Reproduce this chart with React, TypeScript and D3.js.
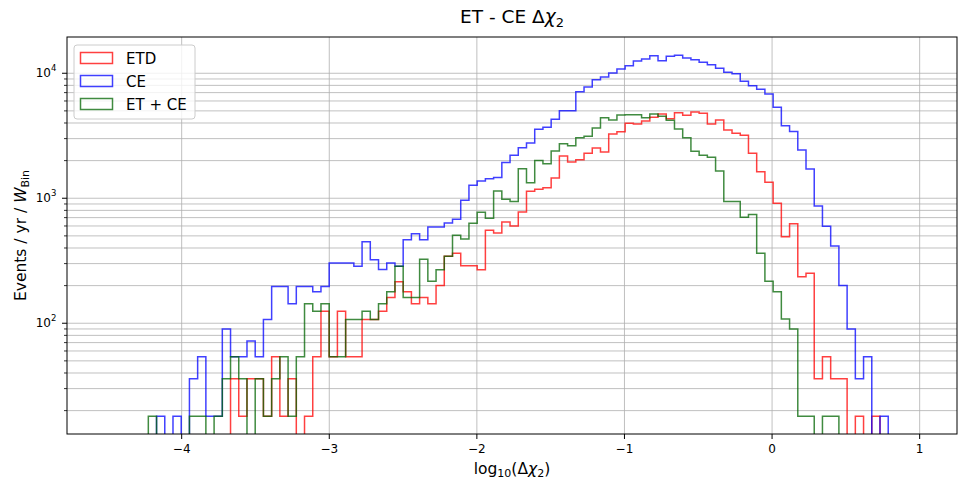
import React from "react";
import * as d3 from "d3";

// Histogram binning (log10 Δχ2)
const binStart = -4.226;
const binWidth = 0.0557;

// Events / yr / W_Bin per bin
const etdValues = [
  0, 0, 0, 0, 0, 0, 0, 0, 0, 0,
  36, 18, 36, 36, 18, 54, 18, 36, 0, 18,
  54, 125, 54, 125, 54, 54, 107, 107, 125, 161,
  215, 179, 143, 161, 143, 200, 344, 363, 289, 289,
  268, 555, 527, 646, 600, 777, 1137, 1180, 1216, 1453,
  2180, 1950, 2035, 2290, 2524, 2344, 3266, 3410, 3980, 3930,
  4150, 4446, 4725, 4335, 4840, 4613, 4900, 4786, 3930, 4230,
  3518, 3312, 3192, 2290, 1632, 1343, 912, 493, 626, 236,
  251, 36, 54, 36, 36, 0, 18, 0, 18, 0,
];

const ceValues = [
  0, 18, 0, 18, 0, 36, 54, 18, 18, 90,
  54, 54, 72, 54, 107, 197, 197, 143, 197, 197,
  179, 197, 304, 304, 304, 286, 448, 322, 269, 304,
  286, 465, 519, 465, 590, 590, 635, 680, 966, 1270,
  1375, 1430, 1465, 1930, 2210, 2540, 2770, 3565, 3700, 4285,
  5020, 5020, 7125, 7770, 8890, 9340, 10040, 10820, 11500, 12540,
  13000, 13830, 12610, 13680, 13940, 13250, 12840, 12240, 11710, 10960,
  10180, 9930, 8630, 7960, 7450, 6830, 5350, 3810, 3413, 2432,
  1714, 867, 597, 415, 200, 90, 36, 54, 0, 18,
];

const etCeValues = [
  18, 0, 0, 0, 0, 18, 18, 0, 18, 36,
  54, 36, 0, 36, 18, 36, 54, 18, 54, 143,
  125, 143, 54, 54, 107, 107, 125, 107, 143, 179,
  286, 161, 161, 325, 217, 268, 344, 506, 472, 631,
  773, 692, 1144, 982, 940, 1725, 1333, 2000, 1891, 2390,
  2734, 2635, 3055, 3133, 3650, 4412, 4230, 4637, 4665, 4665,
  4412, 4725, 4530, 4207, 3585, 3055, 2377, 2208, 2128, 1653,
  940, 940, 705, 740, 363, 217, 179, 108, 90, 18,
  18, 0, 18, 18, 0, 0, 0, 0, 0, 0,
];

const seriesNames = ["ETD", "CE", "ET + CE"];
const seriesColors = ["#ff0000", "#0000ff", "#006400"];
const xTicks = [-4, -3, -2, -1, 0, 1];
const yMajorTicks = [100, 1000, 10000];

const W = 958;
const H = 487;
const M = { left: 67, right: 957, top: 37, bottom: 434 };
const FONT = "DejaVu Sans, sans-serif";

export default function App() {
  const x = d3.scaleLinear().domain([-4.777, 1.253]).range([M.left, M.right]);
  const y = d3.scaleLog().domain([13.0, 19500]).range([M.bottom, M.top]);

  const series = [etdValues, ceValues, etCeValues];

  const makePath = (vals: number[]) => {
    const pts: [number, number][] = [];
    pts.push([binStart, 0]);
    vals.forEach((v, i) => pts.push([binStart + i * binWidth, v]));
    pts.push([binStart + vals.length * binWidth, 0]);
    const line = d3
      .line<[number, number]>()
      .x((d) => x(d[0]))
      .y((d) => (d[1] > 0 ? y(d[1]) : M.bottom + 20))
      .curve(d3.curveStepAfter);
    return line(pts) || "";
  };

  const minorTicks: number[] = [];
  for (let dec = 10; dec <= 10000; dec *= 10) {
    for (let k = 2; k <= 9; k++) {
      const v = dec * k;
      if (v > 13.0 && v < 19500) minorTicks.push(v);
    }
  }

  const gridColor = "#b0b0b0";
  const supMap: Record<number, string> = { 100: "2", 1000: "3", 10000: "4" };

  return (
    <svg width={W} height={H} style={{ display: "block", position: "absolute", left: 0, top: 0 }}>
      <rect x={0} y={0} width={W} height={H} fill="#fff" />
      <defs>
        <clipPath id="plotclip">
          <rect x={M.left} y={M.top} width={M.right - M.left} height={M.bottom - M.top} />
        </clipPath>
      </defs>

      {/* grid */}
      <g>
        {minorTicks.map((t) => (
          <line key={"mg" + t} x1={M.left} x2={M.right} y1={y(t)} y2={y(t)} stroke={gridColor} strokeWidth={0.8} />
        ))}
        {yMajorTicks.map((t) => (
          <line key={"Mg" + t} x1={M.left} x2={M.right} y1={y(t)} y2={y(t)} stroke={gridColor} strokeWidth={0.8} />
        ))}
        {xTicks.map((t) => (
          <line key={"xg" + t} x1={x(t)} x2={x(t)} y1={M.top} y2={M.bottom} stroke={gridColor} strokeWidth={0.8} />
        ))}
      </g>

      {/* histograms */}
      <g clipPath="url(#plotclip)">
        {series.map((vals, i) => (
          <path
            key={seriesNames[i]}
            d={makePath(vals)}
            fill="none"
            stroke={seriesColors[i]}
            strokeOpacity={0.75}
            strokeWidth={1.5}
          />
        ))}
      </g>

      {/* frame */}
      <rect x={M.left} y={M.top} width={M.right - M.left} height={M.bottom - M.top} fill="none" stroke="#000" strokeWidth={1} />

      {/* x ticks */}
      <g fontFamily={FONT} fontSize={12} fill="#000">
        {xTicks.map((t) => (
          <g key={"xt" + t}>
            <line x1={x(t)} x2={x(t)} y1={M.bottom} y2={M.bottom + 5} stroke="#000" strokeWidth={1} />
            <text x={x(t)} y={M.bottom + 19} textAnchor="middle">
              {t < 0 ? "\u2212" + Math.abs(t) : String(t)}
            </text>
          </g>
        ))}
      </g>

      {/* y ticks */}
      <g fontFamily={FONT} fontSize={12} fill="#000">
        {minorTicks.map((t) => (
          <line key={"ymt" + t} x1={M.left - 3} x2={M.left} y1={y(t)} y2={y(t)} stroke="#000" strokeWidth={0.8} />
        ))}
        {yMajorTicks.map((t) => (
          <g key={"yt" + t}>
            <line x1={M.left - 5} x2={M.left} y1={y(t)} y2={y(t)} stroke="#000" strokeWidth={1} />
            <text x={M.left - 16} y={y(t) + 4} textAnchor="end">10</text>
            <text x={M.left - 16} y={y(t) - 2} fontSize={8.5}>{supMap[t]}</text>
          </g>
        ))}
      </g>

      {/* title */}
      <text x={(M.left + M.right) / 2} y={23} textAnchor="middle" fontFamily={FONT} fontSize={18.5}>
        <tspan>ET - CE Δ</tspan>
        <tspan fontStyle="italic">χ</tspan>
        <tspan fontSize={13} dy={4}>2</tspan>
      </text>

      {/* x label */}
      <text x={(M.left + M.right) / 2} y={474} textAnchor="middle" fontFamily={FONT} fontSize={15.5}>
        <tspan>log</tspan>
        <tspan fontSize={11} dy={3}>10</tspan>
        <tspan dy={-3}>(Δ</tspan>
        <tspan fontStyle="italic">χ</tspan>
        <tspan fontSize={11} dy={3}>2</tspan>
        <tspan dy={-3}>)</tspan>
      </text>

      {/* y label */}
      <text
        transform={`translate(26, ${(M.top + M.bottom) / 2}) rotate(-90)`}
        textAnchor="middle"
        fontFamily={FONT}
        fontSize={15.5}
      >
        <tspan>Events / yr / </tspan>
        <tspan fontStyle="italic">W</tspan>
        <tspan fontSize={11} dy={3}>Bin</tspan>
      </text>

      {/* legend */}
      <g fontFamily={FONT} fontSize={15}>
        <rect x={74} y={45} width={121} height={74} rx={3} fill="#fff" fillOpacity={0.8} stroke="#cccccc" strokeWidth={1} />
        {seriesNames.map((n, i) => (
          <g key={"lg" + n}>
            <rect
              x={80.5}
              y={52.5 + i * 23}
              width={32}
              height={11}
              fill="none"
              stroke={seriesColors[i]}
              strokeOpacity={0.75}
              strokeWidth={1.5}
            />
            <text x={126} y={63.5 + i * 23} fill="#000">{n}</text>
          </g>
        ))}
      </g>
    </svg>
  );
}
